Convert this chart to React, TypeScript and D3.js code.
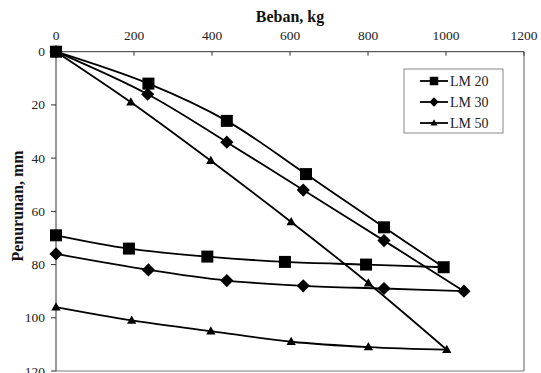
import React from "react";
import * as d3 from "d3";

// Load (kg) and settlement (mm) for each pile length, loading then unloading branch
const lm20LoadX = [0, 237, 438, 641, 841, 994];
const lm20LoadY = [0, 12, 26, 46, 66, 81];
const lm20UnloadX = [994, 795, 587, 388, 187, 0];
const lm20UnloadY = [81, 80, 79, 77, 74, 69];

const lm30LoadX = [0, 235, 438, 634, 841, 1046];
const lm30LoadY = [0, 16, 34, 52, 71, 90];
const lm30UnloadX = [1046, 841, 634, 438, 237, 0];
const lm30UnloadY = [90, 89, 88, 86, 82, 76];

const lm50LoadX = [0, 192, 397, 603, 801, 1002];
const lm50LoadY = [0, 19, 41, 64, 87, 112];
const lm50UnloadX = [1002, 801, 603, 397, 194, 0];
const lm50UnloadY = [112, 111, 109, 105, 101, 96];

const seriesNames = ["LM 20", "LM 30", "LM 50"];
const xTicks = [0, 200, 400, 600, 800, 1000, 1200];
const yTicks = [0, 20, 40, 60, 80, 100, 120];

const W = 541;
const H = 373;
const left = 56;
const right = 524;
const top = 51.7;
const bottom = 371;

const x = d3.scaleLinear().domain([0, 1200]).range([left, right]);
const y = d3.scaleLinear().domain([0, 120]).range([top, bottom]);

type Pt = [number, number];
const zip = (xs: number[], ys: number[]): Pt[] => xs.map((v, i) => [v, ys[i]]);

const series = [
  { name: seriesNames[0], shape: "square", load: zip(lm20LoadX, lm20LoadY), unload: zip(lm20UnloadX, lm20UnloadY) },
  { name: seriesNames[1], shape: "diamond", load: zip(lm30LoadX, lm30LoadY), unload: zip(lm30UnloadX, lm30UnloadY) },
  { name: seriesNames[2], shape: "triangle", load: zip(lm50LoadX, lm50LoadY), unload: zip(lm50UnloadX, lm50UnloadY) },
];

const line = d3
  .line<Pt>()
  .x((d) => x(d[0]))
  .y((d) => y(d[1]))
  .curve(d3.curveCatmullRom.alpha(0.5));

function Marker({ shape, cx, cy, s }: { shape: string; cx: number; cy: number; s: number }) {
  if (shape === "square") {
    return <rect x={cx - s / 2} y={cy - s / 2} width={s} height={s} fill="#000" />;
  }
  if (shape === "diamond") {
    const r = s * 0.55;
    return <path d={`M${cx},${cy - r}L${cx + r},${cy}L${cx},${cy + r}L${cx - r},${cy}Z`} fill="#000" />;
  }
  const w = s * 0.85;
  const h = s * 0.75;
  return (
    <path
      d={`M${cx},${cy - h * 0.6}L${cx + w / 2},${cy + h * 0.4}L${cx - w / 2},${cy + h * 0.4}Z`}
      fill="#000"
    />
  );
}

const serif = "Liberation Serif, DejaVu Serif, serif";
const txt = (size: number, bold = false): React.CSSProperties => ({
  fontFamily: serif,
  fontSize: `${size}px`,
  fontWeight: bold ? 700 : 400,
});

export default function App() {
  const markerSize = [12, 12, 11];
  return (
    <svg width={W} height={H} style={{ position: "absolute", left: 0, top: 0, background: "#fff" }}>
      <rect x={0} y={0} width={W} height={H} fill="#fff" />

      {/* plot frame */}
      <line x1={right} y1={top} x2={right} y2={bottom} stroke="#777" strokeWidth={1.2} />
      <line x1={left} y1={bottom} x2={right} y2={bottom} stroke="#777" strokeWidth={1.2} />
      <line x1={left} y1={top} x2={right} y2={top} stroke="#333" strokeWidth={1} />
      <line x1={left} y1={top} x2={left} y2={bottom} stroke="#333" strokeWidth={1} />

      {/* x axis along the top */}
      {xTicks.map((t) => (
        <g key={`xt${t}`}>
          <line x1={x(t)} y1={top} x2={x(t)} y2={top + 4} stroke="#333" />
          <text x={x(t)} y={40} textAnchor="middle" style={txt(13.5)} fill="#222">
            {t}
          </text>
        </g>
      ))}
      <text x={(left + right) / 2} y={22} textAnchor="middle" style={txt(16, true)} fill="#111">
        Beban, kg
      </text>

      {/* y axis, settlement increasing downward */}
      {yTicks.map((t) => (
        <g key={`yt${t}`}>
          <line x1={left - 5} y1={y(t)} x2={left} y2={y(t)} stroke="#333" />
          <text x={45} y={y(t) + 4.5} textAnchor="end" style={txt(13.5)} fill="#222">
            {t}
          </text>
        </g>
      ))}
      <text
        transform={`translate(23, 206) rotate(-90)`}
        textAnchor="middle"
        style={txt(16, true)}
        fill="#111"
      >
        Penurunan, mm
      </text>

      {/* series lines */}
      {series.map((s) => (
        <g key={`l${s.name}`} fill="none" stroke="#000" strokeWidth={1.8}>
          <path d={line(s.load) || ""} />
          <path d={line(s.unload) || ""} />
        </g>
      ))}

      {/* markers */}
      {series.map((s, si) => (
        <g key={`m${s.name}`}>
          {[...s.load, ...s.unload.slice(1)].map((p, i) => (
            <Marker key={i} shape={s.shape} cx={x(p[0])} cy={y(p[1])} s={markerSize[si]} />
          ))}
        </g>
      ))}

      {/* legend */}
      <g>
        <rect x={404} y={69} width={99} height={64} fill="#fff" stroke="#888" strokeWidth={1} />
        {series.map((s, i) => {
          const ly = 81 + i * 21;
          return (
            <g key={`lg${s.name}`}>
              <line x1={420} y1={ly} x2={448} y2={ly} stroke="#000" strokeWidth={1.8} />
              <Marker shape={s.shape} cx={434} cy={ly} s={8.5} />
              <text x={450} y={ly + 5} style={txt(14)} fill="#222">
                {s.name}
              </text>
            </g>
          );
        })}
      </g>
    </svg>
  );
}
